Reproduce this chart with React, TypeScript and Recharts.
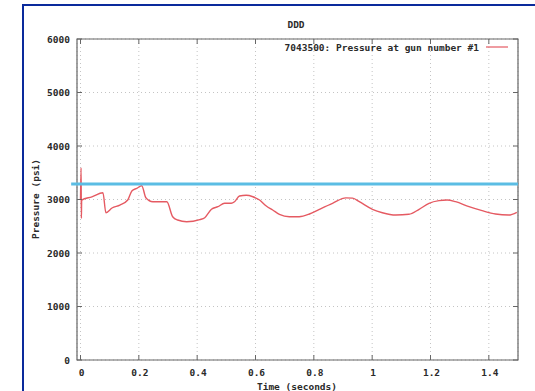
import React from 'react';
import { LineChart, Line, XAxis, YAxis, CartesianGrid, ReferenceLine, ReferenceArea, Customized } from 'recharts';

const times = [0, 0.002, 0.003, 0.004, 0.039, 0.077, 0.087, 0.108, 0.135, 0.162, 0.176, 0.193, 0.21, 0.224, 0.248, 0.296, 0.316, 0.333, 0.364, 0.409, 0.426, 0.449, 0.471, 0.494, 0.517, 0.528, 0.545, 0.568, 0.591, 0.614, 0.637, 0.659, 0.682, 0.716, 0.75, 0.785, 0.819, 0.864, 0.91, 0.933, 0.956, 1.001, 1.035, 1.081, 1.126, 1.161, 1.195, 1.229, 1.257, 1.286, 1.332, 1.377, 1.423, 1.468, 1.496];
const pressure = [2990, 3590, 2650, 2990, 3050, 3127, 2753, 2841, 2897, 2990, 3159, 3209, 3258, 3034, 2959, 2959, 2678, 2617, 2585, 2625, 2660, 2817, 2865, 2929, 2929, 2959, 3065, 3079, 3052, 2990, 2878, 2804, 2723, 2678, 2678, 2729, 2817, 2929, 3030, 3025, 2959, 2817, 2753, 2710, 2723, 2817, 2929, 2978, 2990, 2959, 2866, 2791, 2729, 2710, 2761];
const xTicks = [0, 0.2, 0.4, 0.6, 0.8, 1, 1.2, 1.4];
const yTicks = [0, 1000, 2000, 3000, 4000, 5000, 6000];
const thresholdValue = 3290;
const thresholdStart = -0.032;
const thresholdEnd = 1.5;
const seriesName = '7043500: Pressure at gun number #1';
const chartTitle = 'DDD';
const xLabel = 'Time (seconds)';
const yLabel = 'Pressure (psi)';

const data = times.map((t, i) => ({ t, p: pressure[i] }));

const W = 535;
const H = 391;
const PLOT_TOP = 39;
const PLOT_BOTTOM = 360;
const PLOT_LEFT = 77;
const PLOT_RIGHT = 518;
const FONT = '"DejaVu Sans Mono", monospace';
const TXT = '#2a2a2a';
const BORDER = '#666';
const RED = '#e55a62';

const fmtX = (v: number) => (v === 0 ? '0' : v === 1 ? '1' : v.toFixed(1));

const XTick = (props: any) => {
  const { x, y, payload } = props;
  return (
    <g>
      <line x1={x} x2={x} y1={PLOT_BOTTOM} y2={PLOT_BOTTOM - 5} stroke={BORDER} />
      <line x1={x} x2={x} y1={PLOT_TOP} y2={PLOT_TOP + 5} stroke={BORDER} />
      <text x={x + 1} y={y + 12} textAnchor="middle" dominantBaseline="central" fontFamily={FONT} fontWeight="bold" fontSize={9.5} fill={TXT}>
        {fmtX(payload.value)}
      </text>
    </g>
  );
};

const YTick = (props: any) => {
  const { x, y, payload } = props;
  return (
    <g>
      <line x1={PLOT_LEFT} x2={PLOT_LEFT + 5} y1={y} y2={y} stroke={BORDER} />
      <line x1={PLOT_RIGHT} x2={PLOT_RIGHT - 5} y1={y} y2={y} stroke={BORDER} />
      <text x={x} y={y} textAnchor="end" dominantBaseline="central" fontFamily={FONT} fontWeight="bold" fontSize={9.5} fill={TXT}>
        {payload.value}
      </text>
    </g>
  );
};

const Decorations = () => (
  <g>
    <text x={296} y={24} textAnchor="middle" dominantBaseline="central" fontFamily={FONT} fontWeight="bold" fontSize={9.5} fill={TXT}>
      {chartTitle}
    </text>
    <text x={479} y={47} textAnchor="end" dominantBaseline="central" fontFamily={FONT} fontWeight="bold" fontSize={9.5} fill={TXT}>
      {seriesName}
    </text>
    <line x1={486} x2={508} y1={47} y2={47} stroke={RED} strokeWidth={1.2} />
    <text x={297} y={386} textAnchor="middle" dominantBaseline="central" fontFamily={FONT} fontWeight="bold" fontSize={9.5} fill={TXT}>
      {xLabel}
    </text>
    <text x={35} y={199} transform="rotate(-90 35 199)" textAnchor="middle" dominantBaseline="central" fontFamily={FONT} fontWeight="bold" fontSize={9.5} fill={TXT}>
      {yLabel}
    </text>
  </g>
);

export default function App() {
  return (
    <div style={{ position: 'absolute', left: 0, top: 0, width: W, height: H, background: '#fff', overflow: 'hidden' }}>
      <div style={{ position: 'absolute', left: 22, top: 4, width: W, height: H, borderLeft: '2px solid #0a2a9c', borderTop: '2px solid #0a2a9c' }} />
      <div style={{ position: 'absolute', left: 0, top: 0 }}>
        <LineChart width={W} height={H} data={data} margin={{ top: PLOT_TOP, right: W - PLOT_RIGHT, bottom: 5, left: 17 }}>
          <CartesianGrid stroke="#c4c4c4" strokeDasharray="1 3" />
          <XAxis dataKey="t" type="number" domain={[-0.012, 1.5]} ticks={xTicks} allowDataOverflow axisLine={false} tickLine={false} tickSize={0} tickMargin={0} height={26} tick={<XTick />} interval={0} />
          <YAxis type="number" domain={[0, 6000]} ticks={yTicks} axisLine={false} tickLine={false} tickSize={0} tickMargin={7} width={60} tick={<YTick />} interval={0} />
          <ReferenceArea x1={-0.012} x2={1.5} y1={0} y2={6000} fill="none" stroke={BORDER} strokeWidth={1.2} fillOpacity={0} />
          <Line type="monotone" dataKey="p" stroke={RED} strokeWidth={1.4} dot={false} isAnimationActive={false} />
          <ReferenceLine segment={[{ x: thresholdStart, y: thresholdValue }, { x: thresholdEnd, y: thresholdValue }]} ifOverflow="visible" stroke="#5bbde4" strokeWidth={3} />
          <Customized component={Decorations} />
        </LineChart>
      </div>
    </div>
  );
}
